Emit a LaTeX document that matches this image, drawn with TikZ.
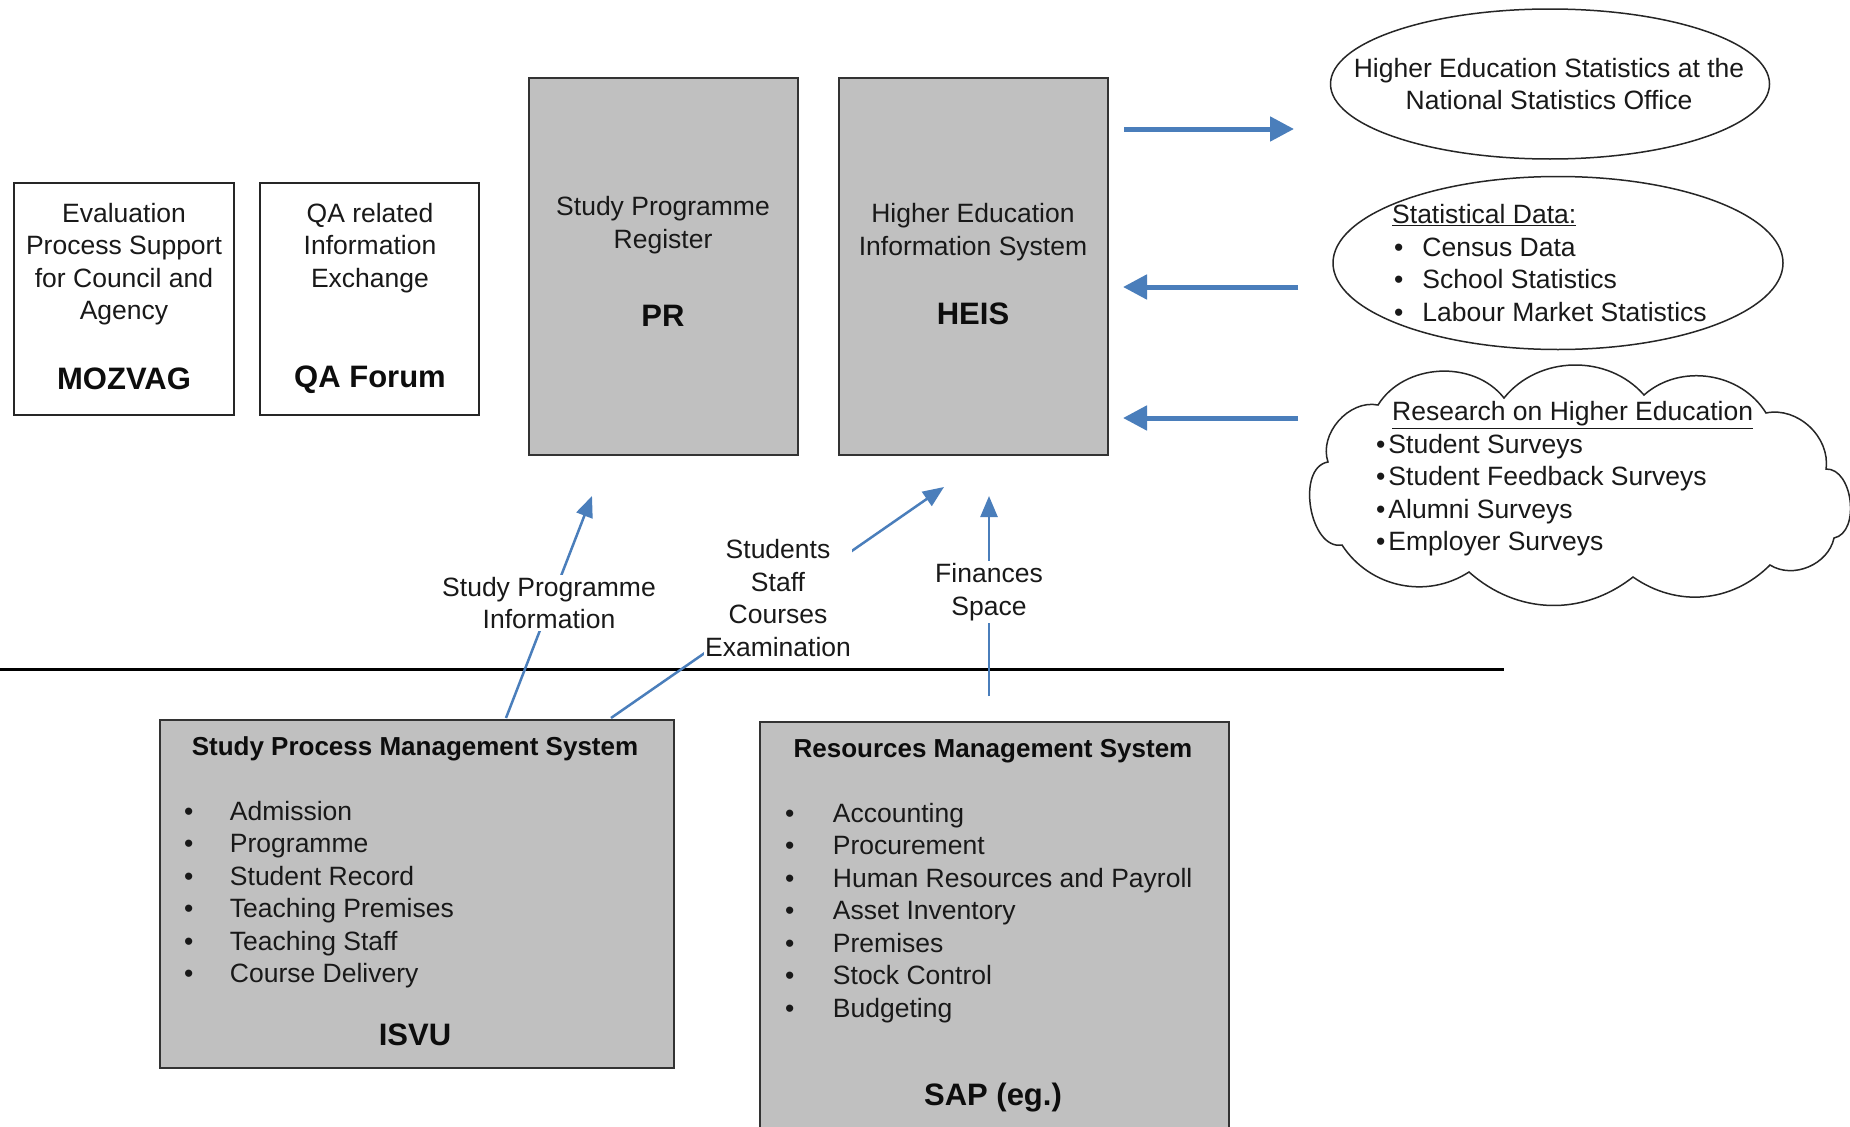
\documentclass[tikz,border=0pt]{standalone}
\usepackage{fontspec}
\setmainfont{Liberation Sans}
\usetikzlibrary{shapes.geometric,arrows.meta}
\definecolor{boxgray}{RGB}{192,192,192}
\definecolor{arrowblue}{RGB}{74,126,187}
\begin{document}
\begin{tikzpicture}[x=1pt,y=-1pt,
  whitebox/.style={draw=black!85, line width=2pt, fill=white, inner sep=0pt},
  graybox/.style={draw=black!80, line width=2pt, fill=boxgray, inner sep=0pt},
  txt/.style={font=\fontsize{26.5}{32.5}\selectfont, inner sep=0pt, align=center, text=black!90},
  ltxt/.style={font=\fontsize{26.5}{32.5}\selectfont, inner sep=0pt, align=left, text=black!90, anchor=west},
  bigtxt/.style={font=\fontsize{31}{36}\selectfont\bfseries, inner sep=0pt, text=black!95},
  ttltxt/.style={font=\fontsize{26}{32}\selectfont\bfseries, inner sep=0pt, text=black!95},
  lbl/.style={font=\fontsize{26.5}{32.5}\selectfont, inner sep=2pt, align=center, fill=white, text=black!90},
  bigarrow/.style={draw=arrowblue, line width=5pt, -{Triangle[length=24pt,width=24pt,fill=arrowblue]}},
  thinarrow/.style={draw=arrowblue, line width=2.5pt, -{Triangle[length=21pt,width=17pt,fill=arrowblue]}},
  oval/.style={ellipse, draw=black!85, line width=1.5pt, inner sep=0pt},
  cloudline/.style={draw=black!85, line width=1.5pt, fill=white}
]
\useasboundingbox (0,0) rectangle (1850,1127);
\clip (0,0) rectangle (1850,1127);
\fill[white] (0,0) rectangle (1850,1127);

% top left white boxes
\node[whitebox, minimum width=220pt, minimum height=232pt] (mozvag) at (124,299) {};
\node[txt] (mozvagT) at (124,264) {Evaluation\\Process Support\\for Council and\\Agency};
\node[bigtxt] (mozvagL) at (124,379) {MOZVAG};

\node[whitebox, minimum width=219pt, minimum height=232pt] (qa) at (369.5,299) {};
\node[txt] (qaT) at (370,248) {QA related\\Information\\Exchange};
\node[bigtxt] (qaL) at (370,380) {QA Forum};

% PR and HEIS
\node[graybox, minimum width=269pt, minimum height=377pt] (pr) at (663.5,266.5) {};
\node[txt] (prT) at (663,225) {Study Programme\\Register};
\node[bigtxt] (prL) at (663,316) {PR};

\node[graybox, minimum width=269pt, minimum height=377pt] (heis) at (973.5,266.5) {};
\node[txt] (heisT) at (973,232) {Higher Education\\Information System};
\node[bigtxt] (heisL) at (973,314) {HEIS};

% right side
\node[oval, minimum width=439pt, minimum height=150pt] (nso) at (1550,84) {};
\node[txt] (nsoT) at (1549,84) {Higher Education Statistics at the\\National Statistics Office};

\node[oval, minimum width=450pt, minimum height=173pt] (stat) at (1558,263) {};
\node[ltxt] (statT) at (1392,263) {\underline{Statistical Data:}\\
  \hspace*{2pt}\textbullet\hspace*{19pt}Census Data\\
  \hspace*{2pt}\textbullet\hspace*{19pt}School Statistics\\
  \hspace*{2pt}\textbullet\hspace*{19pt}Labour Market Statistics};

% cloud drawn from its cusps
\coordinate (k1) at (1378,405);
\coordinate (k2) at (1504,398);
\coordinate (k3) at (1644,395);
\coordinate (k4) at (1766,413);
\coordinate (k5) at (1826,469);
\coordinate (k6) at (1834,538);
\coordinate (k7) at (1770,565);
\coordinate (k8) at (1633,577);
\coordinate (k9) at (1469,572);
\coordinate (k10) at (1342,545);
\coordinate (k11) at (1328,462);
\path[cloudline] (k1) to[bend left=55] (k2) to[bend left=50] (k3) to[bend left=50] (k4)
  to[bend left=55] (k5) to[bend left=85] (k6) to[bend left=55] (k7)
  to[bend left=40] (k8) to[bend left=40] (k9) to[bend left=45] (k10)
  to[bend left=90] (k11) to[bend left=60] (k1) -- cycle;
\node[ltxt] (researchT) at (1376,479) {\hspace*{16pt}\underline{Research on Higher Education}\\
  \textbullet\hspace*{3pt}Student Surveys\\
  \textbullet\hspace*{3pt}Student Feedback Surveys\\
  \textbullet\hspace*{3pt}Alumni Surveys\\
  \textbullet\hspace*{3pt}Employer Surveys};

% horizontal arrows
\coordinate (a1s) at (1124,129);
\coordinate (a1e) at (1294,129);
\coordinate (a2s) at (1298,287);
\coordinate (a2e) at (1123,287);
\coordinate (a3s) at (1298,418);
\coordinate (a3e) at (1123,418);
\draw[bigarrow] (a1s) -- (a1e);
\draw[bigarrow] (a2s) -- (a2e);
\draw[bigarrow] (a3s) -- (a3e);

% bottom boxes
\node[graybox, minimum width=514pt, minimum height=348pt] (isvu) at (417,894) {};
\node[ttltxt] (isvuT) at (415,749) {Study Process Management System};
\node[ltxt] (isvuList) at (184,894.5) {%
  \textbullet\hspace*{36.5pt}Admission\\
  \textbullet\hspace*{36.5pt}Programme\\
  \textbullet\hspace*{36.5pt}Student Record\\
  \textbullet\hspace*{36.5pt}Teaching Premises\\
  \textbullet\hspace*{36.5pt}Teaching Staff\\
  \textbullet\hspace*{36.5pt}Course Delivery};
\node[bigtxt] (isvuL) at (415,1035) {ISVU};

\node[graybox, minimum width=469pt, minimum height=430pt] (sap) at (994.5,937) {};
\node[ttltxt] (sapT) at (993,751) {Resources Management System};
\node[ltxt] (sapList) at (785,913) {%
  \textbullet\hspace*{38.5pt}Accounting\\
  \textbullet\hspace*{38.5pt}Procurement\\
  \textbullet\hspace*{38.5pt}Human Resources and Payroll\\
  \textbullet\hspace*{38.5pt}Asset Inventory\\
  \textbullet\hspace*{38.5pt}Premises\\
  \textbullet\hspace*{38.5pt}Stock Control\\
  \textbullet\hspace*{38.5pt}Budgeting};
\node[bigtxt] (sapL) at (993,1098) {SAP (eg.)};

% separator line
\coordinate (sepL) at (0,669);
\coordinate (sepR) at (1504,669);
\draw[black, line width=3pt] (sepL) -- (sepR);

% vertical / diagonal flows
\coordinate (spiS) at (506,718);
\coordinate (spiE) at (592,496);
\coordinate (stsS) at (611,718);
\coordinate (stsE) at (944,487);
\coordinate (finS) at (989,696);
\coordinate (finE) at (989,496);
\draw[thinarrow] (spiS) -- (spiE);
\draw[thinarrow] (stsS) -- (stsE);
\draw[thinarrow] (finS) -- (finE);
\node[lbl] (spiL) at (549,603) {Study Programme\\Information};
\node[lbl, inner sep=1pt] (stsL) at (778,598) {Students\\Staff\\Courses\\Examination};
\node[lbl] (finL) at (989,592) {Finances\\Space};
\end{tikzpicture}
\end{document}
